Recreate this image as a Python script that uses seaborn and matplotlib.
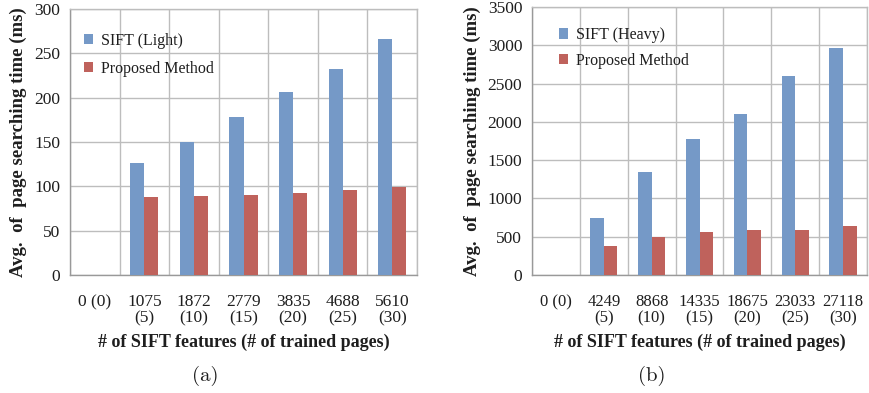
import numpy as np
import pandas as pd
import matplotlib
matplotlib.use("Agg")
import matplotlib.pyplot as plt
import seaborn as sns

# Left panel: SIFT (Light)
light_labels = ["0 (0)", "1075\n(5)", "1872\n(10)", "2779\n(15)", "3835\n(20)", "4688\n(25)", "5610\n(30)"]
light_sift = [0, 126, 150, 178, 206, 232, 266]
light_proposed = [0, 88, 89, 90, 92, 96, 99]
light_yticks = [0, 50, 100, 150, 200, 250, 300]

# Right panel: SIFT (Heavy)
heavy_labels = ["0 (0)", "4249\n(5)", "8868\n(10)", "14335\n(15)", "18675\n(20)", "23033\n(25)", "27118\n(30)"]
heavy_sift = [0, 750, 1350, 1770, 2100, 2600, 2970]
heavy_proposed = [0, 375, 500, 560, 590, 590, 640]
heavy_yticks = [0, 500, 1000, 1500, 2000, 2500, 3000, 3500]

BLUE = "#7599C7"
RED = "#BF625C"
GRID = "#BDBDBD"
TEXT = "#1e1e1e"

sns.set_theme(style="white")
plt.rcParams["font.family"] = ["Liberation Serif", "DejaVu Serif"]

fig = plt.figure(figsize=(8.69, 3.93), dpi=100)
W, H = 869, 393


def px_axes(x0, y0, x1, y1):
    return fig.add_axes([x0 / W, 1 - y1 / H, (x1 - x0) / W, (y1 - y0) / H])


def panel(ax, labels, sift, proposed, sift_name, yticks, caption, cap_x, tick_fs, leg_xy, leg_sp):
    df = pd.DataFrame({
        "cat": labels * 2,
        "val": list(sift) + list(proposed),
        "series": [sift_name] * len(labels) + ["Proposed Method"] * len(labels),
    })
    sns.barplot(data=df, x="cat", y="val", hue="series", order=labels,
                palette=[BLUE, RED], width=0.57, gap=0, ax=ax, legend=True,
                saturation=1, linewidth=0, zorder=3)
    n = len(labels)
    ax.set_xlim(-0.5, n - 0.5)
    ax.set_ylim(yticks[0], yticks[-1])
    ax.set_yticks(yticks)
    ax.set_yticklabels([str(t) for t in yticks], fontsize=12.5, color=TEXT)
    ax.set_xticks(range(n))
    ax.set_xticklabels(labels, fontsize=tick_fs, color=TEXT, linespacing=1.0)
    ax.set_xticks(np.arange(-0.5, n), minor=True)
    ax.tick_params(axis="x", which="major", length=0, pad=14)
    ax.tick_params(axis="x", which="minor", length=5, width=1, color="#999999", direction="out")
    ax.tick_params(axis="y", which="major", length=4, width=1, color="#999999", direction="out", pad=3)
    ax.grid(True, axis="y", which="major", color=GRID, lw=1, zorder=0)
    ax.grid(True, axis="x", which="minor", color=GRID, lw=1, zorder=0)
    ax.grid(False, axis="x", which="major")
    ax.set_axisbelow(True)
    for side in ["top", "right"]:
        ax.spines[side].set_color(GRID)
        ax.spines[side].set_linewidth(1)
    for side in ["left", "bottom"]:
        ax.spines[side].set_color("#999999")
        ax.spines[side].set_linewidth(1)
    ax.set_xlabel("# of SIFT features (# of trained pages)", fontsize=13,
                  fontweight="bold", color=TEXT, labelpad=5)
    ax.set_ylabel("Avg.  of  page searching time (ms)", fontsize=13.5,
                  fontweight="bold", color=TEXT, labelpad=5)
    leg = ax.legend(loc="upper left", bbox_to_anchor=leg_xy, frameon=False,
                    fontsize=11.5, handlelength=0.6, handleheight=0.6,
                    handletextpad=0.45, labelspacing=leg_sp,
                    borderpad=0, borderaxespad=0)
    for t in leg.get_texts():
        t.set_color(TEXT)
    fig.text(cap_x / W, 1 - 376 / H, caption, ha="center", va="center",
             fontsize=15, family="cmr10", color=TEXT)


ax1 = px_axes(70, 9, 417, 275)
panel(ax1, light_labels, light_sift, light_proposed, "SIFT (Light)", light_yticks,
      "(a)", 205, 12.5, (0.04, 0.91), 0.75)

ax2 = px_axes(532, 7, 867, 275)
panel(ax2, heavy_labels, heavy_sift, heavy_proposed, "SIFT (Heavy)", heavy_yticks,
      "(b)", 652, 12, (0.08, 0.925), 0.6)

fig.savefig("out.png", dpi=100)
